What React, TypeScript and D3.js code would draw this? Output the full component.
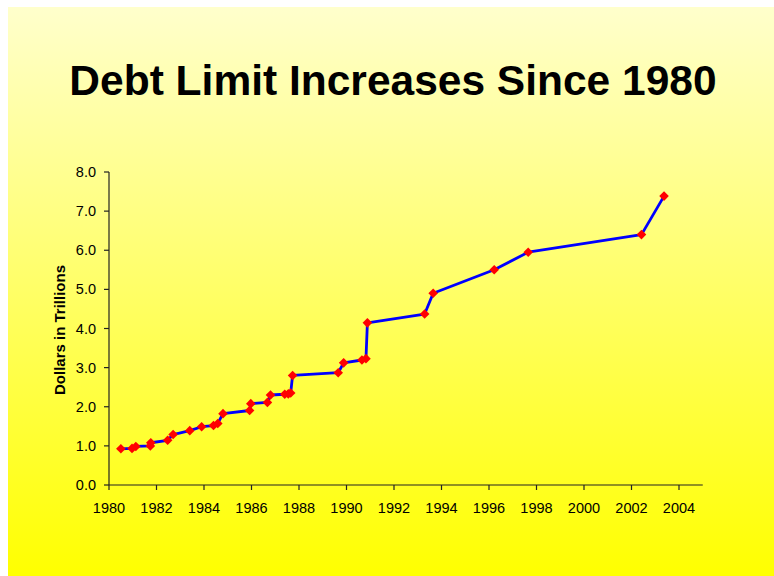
import React from "react";
import * as d3 from "d3";

const years = [1980.5, 1980.97, 1981.13, 1981.74, 1981.76, 1982.47, 1982.7, 1983.4, 1983.9, 1984.4, 1984.58, 1984.8, 1985.92, 1985.97, 1986.67, 1986.8, 1987.4, 1987.55, 1987.65, 1987.73, 1989.65, 1989.88, 1990.65, 1990.82, 1990.88, 1993.29, 1993.65, 1996.22, 1997.65, 2002.42, 2003.37];
const values = [0.925, 0.935, 0.985, 0.999, 1.08, 1.143, 1.29, 1.389, 1.49, 1.52, 1.573, 1.824, 1.904, 2.079, 2.111, 2.3, 2.32, 2.33, 2.352, 2.8, 2.87, 3.122, 3.195, 3.23, 4.145, 4.37, 4.9, 5.5, 5.95, 6.4, 7.384];
const xTicks = [1980, 1982, 1984, 1986, 1988, 1990, 1992, 1994, 1996, 1998, 2000, 2002, 2004];
const yTicks = [0, 1, 2, 3, 4, 5, 6, 7, 8];
const title = "Debt Limit Increases Since 1980";
const yTitle = "Dollars in Trillions";

export default function App() {
  const W = 774, H = 576;
  const x = d3.scaleLinear().domain([1980, 2005]).range([109, 702.75]);
  const y = d3.scaleLinear().domain([0, 8]).range([485, 172]);
  const pts = years.map((yr, i) => [yr, values[i]] as [number, number]);
  const line = d3.line<[number, number]>().x(d => x(d[0])).y(d => y(d[1]));
  const diamond = (cx: number, cy: number, r: number) => `M${cx},${cy - r}L${cx + r},${cy}L${cx},${cy + r}L${cx - r},${cy}Z`;
  const font = "'Liberation Sans', Arial, sans-serif";
  return (
    <svg width={W} height={H} style={{ position: "absolute", left: 0, top: 0 }} fontFamily={font}>
      <defs>
        <linearGradient id="bg" x1="0" y1="0" x2="0" y2="1">
          <stop offset="0" stopColor="#FFFFCC" />
          <stop offset="1" stopColor="#FFFF00" />
        </linearGradient>
      </defs>
      <rect x={0} y={0} width={W} height={H} fill="#fff" />
      <rect x={8} y={7} width={W - 8} height={H - 7} fill="url(#bg)" />
      <text x={393} y={95} textAnchor="middle" fontSize={42.5} fontWeight="bold" fill="#000">{title}</text>
      <g stroke="#222" strokeWidth={1.2}>
        <line x1={x(1980)} x2={x(1980)} y1={y(8)} y2={y(0)} />
        <line x1={x(1980)} x2={x(2005)} y1={y(0)} y2={y(0)} />
        {yTicks.map(t => <line key={"yt" + t} x1={x(1980) - 5} x2={x(1980)} y1={y(t)} y2={y(t)} />)}
        {xTicks.map(t => <line key={"xt" + t} x1={x(t)} x2={x(t)} y1={y(0)} y2={y(0) + 5} />)}
      </g>
      {yTicks.map(t => (
        <text key={"yl" + t} x={96} y={y(t) + 5} textAnchor="end" fontSize={14.5} fill="#000">{d3.format(".1f")(t)}</text>
      ))}
      {xTicks.map(t => (
        <text key={"xl" + t} x={x(t)} y={513} textAnchor="middle" fontSize={14.5} fill="#000">{t}</text>
      ))}
      <text transform={`translate(65,330) rotate(-90)`} textAnchor="middle" fontSize={15} fontWeight="bold" fill="#000">{yTitle}</text>
      <path d={line(pts) || ""} fill="none" stroke="#0000FF" strokeWidth={2.8} strokeLinejoin="round" />
      {pts.map((p, i) => (
        <path key={"m" + i} d={diamond(x(p[0]), y(p[1]), 4.8)} fill="#FF0000" />
      ))}
    </svg>
  );
}
